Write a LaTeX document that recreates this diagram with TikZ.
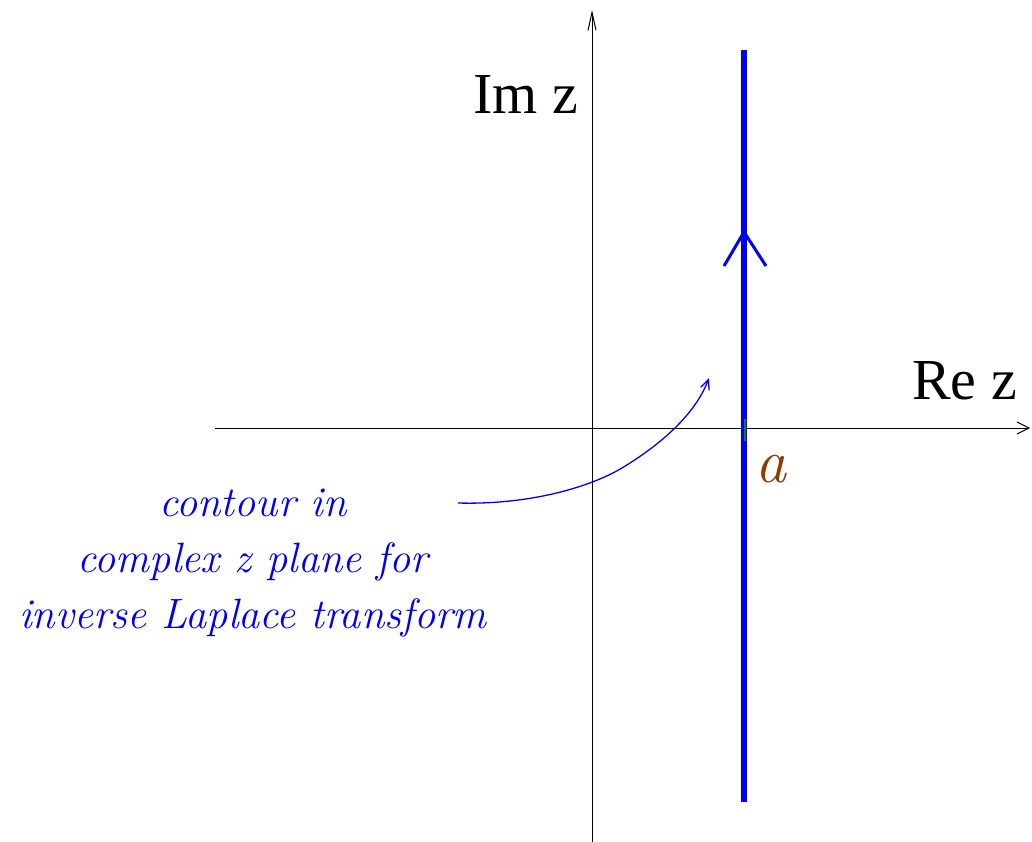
\documentclass[tikz,border=0pt]{standalone}
\usepackage{fontspec}
\setmainfont{Liberation Serif}
\newfontfamily\lmit{Latin Modern Roman}
\usetikzlibrary{arrows.meta}
\definecolor{contourblue}{RGB}{0,0,240}
\definecolor{abrown}{RGB}{140,60,0}
\definecolor{tickgreen}{RGB}{20,130,20}
\tikzset{
  axis/.style={line width=1pt, black, -{Straight Barb[length=12pt,width=12pt,line width=1pt]}},
  yaxis/.style={line width=1pt, black, -{Straight Barb[length=18pt,width=8pt,line width=1pt]}},
  contour/.style={line width=5.5pt, contourblue},
  pointer/.style={line width=1.3pt, contourblue, -{Straight Barb[length=10pt,width=9pt,line width=1.3pt]}},
  axlabel/.style={font=\fontsize{58}{60}\selectfont, inner sep=0pt},
  note/.style={font=\lmit\itshape\fontsize{42.4}{56}\selectfont, text=contourblue, align=center, inner sep=0pt},
}
\begin{document}
\begin{tikzpicture}[x=1pt,y=-1pt]
\useasboundingbox (0,0) rectangle (1032,842);
% axes
\coordinate (xl) at (215,428);
\coordinate (xr) at (1030,428);
\coordinate (yb) at (592,842);
\coordinate (yt) at (592,10);
\draw[axis] (xl) -- (xr);
\draw[yaxis] (yb) -- (yt);
% contour
\coordinate (cb) at (744,802);
\coordinate (ct) at (744,50);
\coordinate (ca) at (744,232);
\coordinate (cal) at (724,266);
\coordinate (car) at (766,266);
\draw[contour] (cb) -- (ct);
\draw[line width=3pt, contourblue] (cal) -- (ca) -- (car);
% green tick
\coordinate (gt) at (745,419);
\coordinate (gb) at (745,441);
\draw[line width=2pt, tickgreen] (gt) -- (gb);
% labels
\node[axlabel, anchor=base west] (im) at (473,114) {Im z};
\node[axlabel, anchor=base west] (re) at (912,399) {Re z};
\node[inner sep=0pt, text=abrown, anchor=base west, font=\lmit\itshape\fontsize{62}{64}\selectfont] (a) at (755,482) {a};
% note
\node[note] (note) at (253,563) {contour in\\complex z plane for\\inverse Laplace transform};
\coordinate (ps) at (458,503);
\coordinate (pk) at (622,468);
\coordinate (pe) at (709,378);
\draw[pointer] (ps) .. controls (530,505) and (590,487) .. (pk) .. controls (660,445) and (695,415) .. (pe);
\end{tikzpicture}
\end{document}
